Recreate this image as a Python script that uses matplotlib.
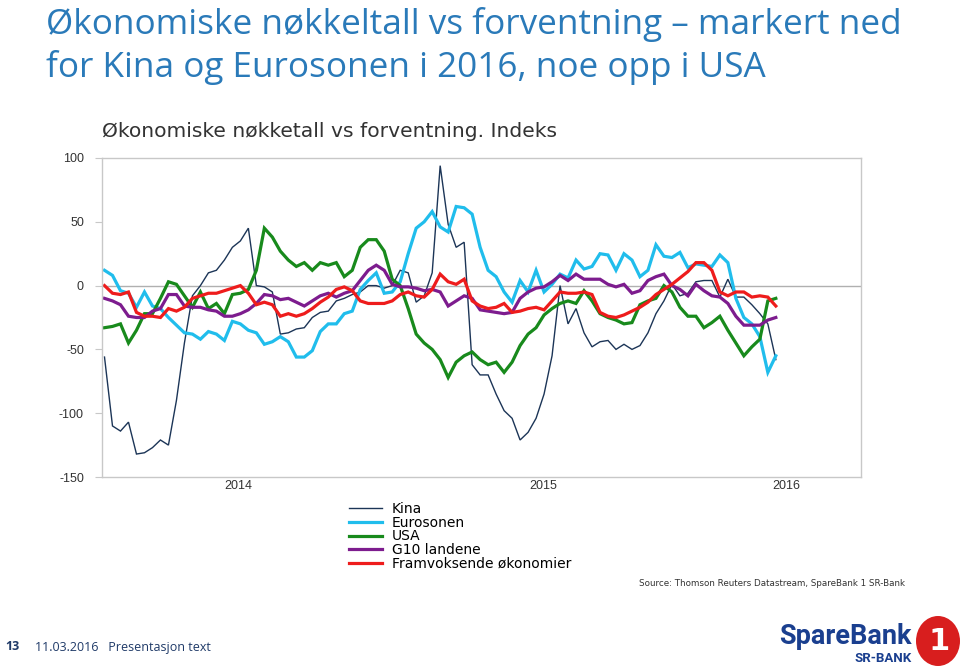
import matplotlib
matplotlib.use("Agg")
import matplotlib.pyplot as plt
from matplotlib.patches import Ellipse
import numpy as np
import pandas as pd

plt.rcParams["axes.unicode_minus"] = False

# omtrentlige datoer (ca. hver 9.-10. dag) fra jan 2014 til april 2016
dates = pd.date_range("2014-01-22", "2016-04-05", periods=85)

kina = [-56, -110, -114, -107, -132, -131, -127, -121, -125, -90, -45, -8, 0, 10, 12, 20, 30, 35, 45, 0,
        -1, -5, -38, -37, -34, -33, -25, -21, -20,
        -12, -10, -7, -5, 0, 0, -2, 0, 12, 10, -13, -8, 10, 94, 48, 30, 34, -62, -70, -70, -85, -98,
        -104, -121, -115, -104, -85, -55,
        0, -30, -18, -37, -48, -44, -43, -50, -46, -50, -47, -37, -22, -12, 1, -8, -6, 3, 4, 4, -9, 5,
        -9, -9, -15, -22, -30, -58]
eurosonen = [12, 8, -4, -6, -17, -5, -16, -18, -25, -31, -37, -38, -42, -36, -38, -43, -28, -30, -35,
             -37, -46, -44, -40, -44, -56, -56, -51, -36, -30,
             -30, -22, -20, -3, 4, 10, -6, -5, 3, 25, 45, 50, 58, 46, 42, 62, 61, 56, 30, 12, 7, -5, -13,
             4, -5, 12, -5, 1,
             9, 6, 20, 13, 15, 25, 24, 12, 25, 20, 7, 12, 32, 23, 22, 26, 14, 17, 16, 15, 24, 18, -10,
             -25, -30, -40, -68, -55]
usa = [-33, -32, -30, -45, -35, -22, -22, -10, 3, 1, -8, -17, -5, -18, -14, -22, -7, -6, -3, 12, 45,
       38, 27, 20, 15, 18, 12, 18, 16,
       18, 7, 12, 30, 36, 36, 27, 5, 0, -18, -38, -45, -50, -58, -72, -60, -55, -52, -58, -62, -60, -68,
       -60, -47, -38, -33, -23, -18,
       -14, -12, -14, -4, -12, -22, -25, -27, -30, -29, -15, -12, -10, 0, -5, -17, -24, -24, -33, -29,
       -24, -35, -45, -55, -48, -42, -12, -10]
g10 = [-10, -12, -15, -24, -25, -25, -20, -18, -7, -7, -16, -17, -17, -19, -20, -24, -24, -22, -19, -14,
       -7, -8, -11, -10, -13, -16, -12, -8, -6,
       -9, -6, -4, 4, 12, 16, 12, 1, -1, -1, -2, -4, -3, -5, -16, -12, -8, -10, -19, -20, -21, -22, -21,
       -10, -5, -2, -1, 3,
       8, 4, 9, 5, 5, 5, 1, -1, 1, -6, -4, 4, 7, 9, 0, -3, -8, 1, -4, -8, -9, -14, -24, -31, -31, -31,
       -27, -25]
framvoksende = [0, -6, -7, -5, -21, -24, -24, -25, -18, -20, -17, -10, -8, -6, -6, -4, -2, 0, -6, -15,
                -13, -15, -24, -22, -24, -22, -18, -13, -9,
                -3, -1, -4, -12, -14, -14, -14, -12, -7, -5, -8, -9, -3, 9, 3, 1, 5, -12, -16, -18, -17,
                -14, -21, -20, -18, -17, -19, -12,
                -5, -6, -6, -5, -7, -21, -24, -25, -23, -20, -17, -13, -7, -3, 1, 6, 11, 18, 18, 12, -5,
                -8, -5, -5, -9, -8, -9, -16]

labels = ["Kina", "Eurosonen", "USA", "G10 landene", "Framvoksende økonomier"]
colors = ["#1c3557", "#20bdec", "#188a1c", "#7d1c8e", "#ee1c1c"]
widths = [1.0, 2.3, 2.3, 2.3, 2.3]

year_ticks = [pd.Timestamp("2014-07-01"), pd.Timestamp("2015-07-01"), pd.Timestamp("2016-04-18")]
year_labels = ["2014", "2015", "2016"]

W, H = 960, 669
fig = plt.figure(figsize=(9.6, 6.69), dpi=100)


def fx(px):
    return px / W


def fy(py):
    return 1 - py / H


title_blue = "#2a7ab9"
fig.text(fx(46), fy(34), "Økonomiske nøkkeltall vs forventning – markert ned",
         family="Open Sans", fontsize=25.3, color=title_blue, va="baseline")
fig.text(fx(46), fy(77), "for Kina og Eurosonen i 2016, noe opp i USA",
         family="Open Sans", fontsize=25.3, color=title_blue, va="baseline")

fig.text(fx(102), fy(137), "Økonomiske nøkketall vs forventning. Indeks",
         family="DejaVu Sans", fontsize=14.6, color="#333333", va="baseline")

ax = fig.add_axes([fx(102), fy(477), (861 - 102) / W, (477 - 158) / H])
series = [kina, eurosonen, usa, g10, framvoksende]
lines = []
for vals, lab, c, lw in zip(series, labels, colors, widths):
    ln, = ax.plot(dates, vals, color=c, lw=lw, label=lab, solid_joinstyle="miter")
    lines.append(ln)

ax.axhline(0, color="#b0b0b0", lw=1.0, zorder=0)
ax.set_ylim(-150, 100)
ax.set_yticks([100, 50, 0, -50, -100, -150])
ax.set_xlim(pd.Timestamp("2014-01-19"), pd.Timestamp("2016-07-16"))
ax.set_xticks(year_ticks)
ax.set_xticklabels(year_labels)
for s in ax.spines.values():
    s.set_color("#c8c8c8")
    s.set_linewidth(1.0)
ax.tick_params(axis="y", length=5, color="#c8c8c8", labelsize=9, labelcolor="#333333", pad=8)
ax.tick_params(axis="x", length=0, labelsize=9, labelcolor="#333333", pad=2)
for t in ax.get_yticklabels() + ax.get_xticklabels():
    t.set_family("Liberation Sans")

fig.legend(handles=lines, labels=labels, loc="upper left", bbox_to_anchor=(fx(349), fy(502)),
           frameon=False, prop={"family": "DejaVu Sans", "size": 10},
           handlelength=2.4, handletextpad=0.7, labelspacing=-0.02, borderpad=0, borderaxespad=0)

fig.text(fx(905), fy(584), "Source: Thomson Reuters Datastream, SpareBank 1 SR-Bank",
         family="DejaVu Sans", fontsize=6.3, color="#333333", ha="right", va="center")

fig.text(fx(5), fy(647), "13", family="Open Sans", fontsize=9, fontweight="bold",
         color="#1f3a68", va="center")
fig.text(fx(35), fy(647), "11.03.2016   Presentasjon text", family="Open Sans", fontsize=9,
         color="#1f3a68", va="center")

# logo
fig.text(fx(912), fy(636), "SpareBank", family="Roboto", fontsize=19.5, fontweight="bold",
         color="#1a3f8f", ha="right", va="center")
fig.text(fx(912), fy(658), "SR-BANK", family="Roboto", fontsize=9.5, fontweight="bold",
         color="#1a3f8f", ha="right", va="center")
fig.patches.append(Ellipse((fx(938), fy(641)), 44 / W, 50 / H, transform=fig.transFigure,
                           facecolor="#d81e1e", edgecolor="none"))
fig.text(fx(939), fy(641), "1", family="DejaVu Sans", fontsize=22, fontweight="bold",
         color="white", ha="center", va="center")

fig.savefig("out.png", dpi=100, facecolor="white")
